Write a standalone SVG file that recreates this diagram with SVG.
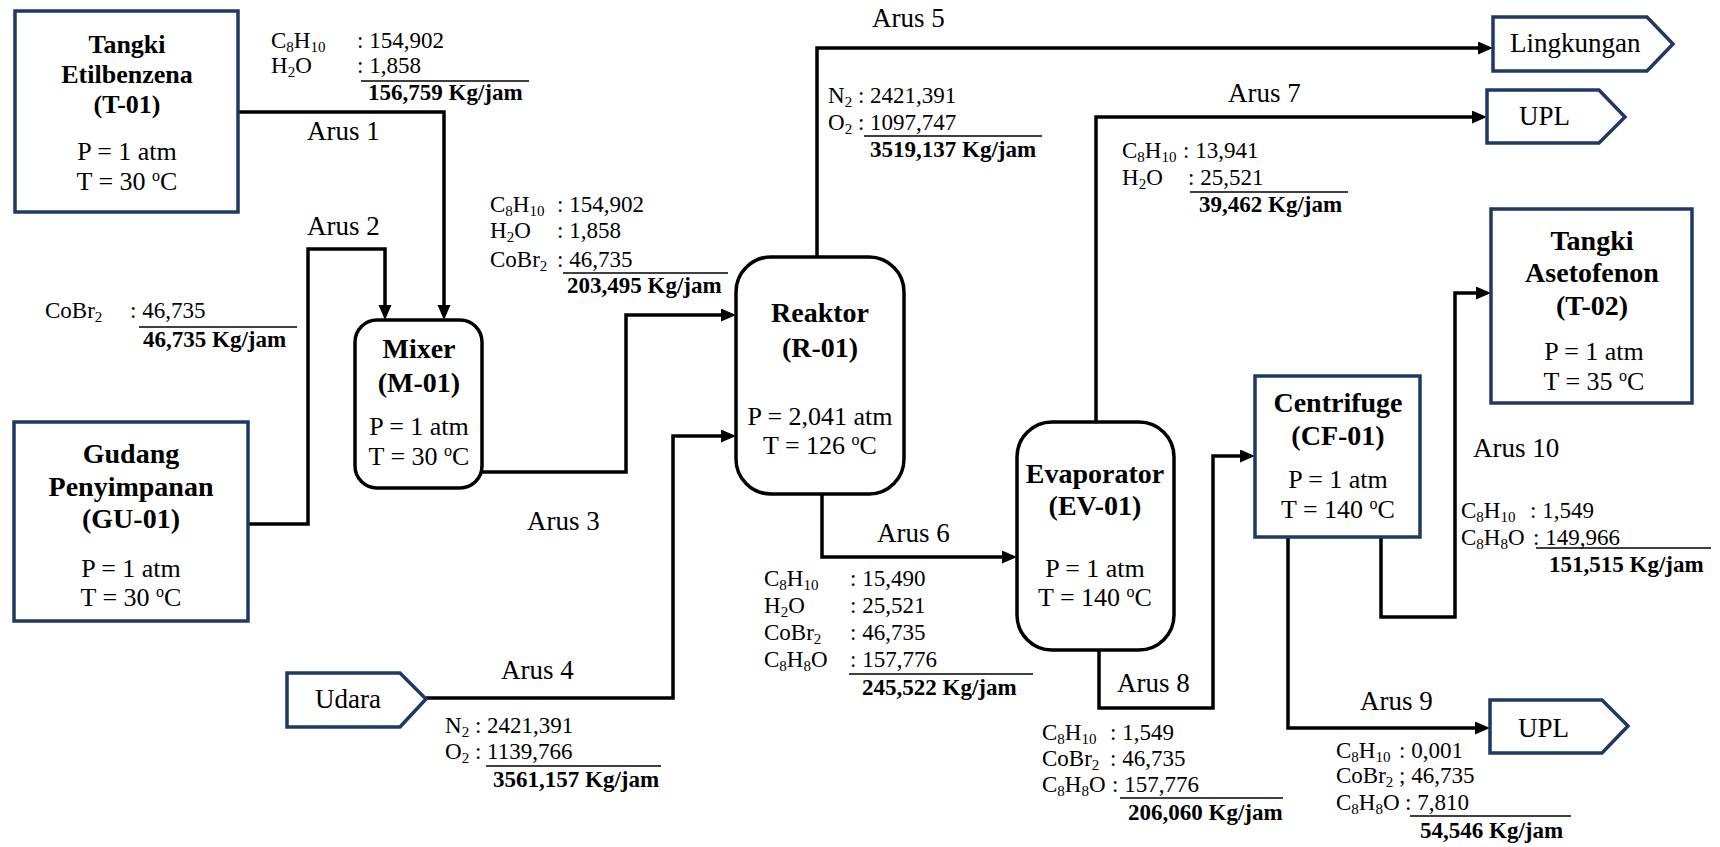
<svg xmlns="http://www.w3.org/2000/svg" width="1720" height="847" viewBox="0 0 1720 847" font-family="'Liberation Serif', 'Times New Roman', serif">
<style>
text{font-family:"Liberation Serif","Times New Roman",serif;fill:#000}
.t{font-size:28px;font-weight:bold;text-anchor:middle}
.t1{font-size:26px;font-weight:bold;text-anchor:middle}
.p{font-size:26px;text-anchor:middle}
.a{font-size:27px}
.c{font-size:23px}
.b{font-size:23px;font-weight:bold}
.s{font-size:15px;baseline-shift:-4px}
.o{font-size:16px;baseline-shift:9px}
.box{fill:#fff;stroke:#1F3864;stroke-width:3.5}
.rbox{fill:#fff;stroke:#000;stroke-width:3.5}
.conn{fill:none;stroke:#000;stroke-width:3.5;marker-end:url(#ah)}
.rule{stroke:#000;stroke-width:1.6}
</style>
<defs>
<marker id="ah" markerUnits="userSpaceOnUse" markerWidth="16" markerHeight="14" refX="11" refY="6.5" orient="auto">
<path d="M0,0 L15,6.5 L0,13 z" fill="#000"/>
</marker>
</defs>
<rect width="1720" height="847" fill="#fff"/>

<g id="connectors">
<path class="conn" d="M238,112 H444 V316"/>
<path class="conn" d="M248,524 H308 V249 H385 V316"/>
<path class="conn" d="M482,472 H626 V315 H732"/>
<path class="conn" d="M426,698 H673 V436 H732"/>
<path class="conn" d="M817,257 V48 H1489"/>
<path class="conn" d="M822,494 V557 H1013"/>
<path class="conn" d="M1096,422 V117 H1483"/>
<path class="conn" d="M1099,650 V708 H1213 V456 H1251"/>
<path class="conn" d="M1288,537 V728 H1486"/>
<path class="conn" d="M1381,537 V617 H1455 V293 H1487"/>
</g>

<g id="T-01">
<rect class="box" x="15" y="11" width="223" height="201"/>
<text class="t1" x="127" y="53">Tangki</text>
<text class="t1" x="127" y="83">Etilbenzena</text>
<text class="t1" x="127" y="113">(T-01)</text>
<text class="p" x="127" y="160">P = 1 atm</text>
<text class="p" x="127" y="190">T = 30 <tspan class="o">o</tspan>C</text>
</g>

<g id="GU-01">
<rect class="box" x="14" y="422" width="234" height="199"/>
<text class="t" x="131" y="463">Gudang</text>
<text class="t" x="131" y="496">Penyimpanan</text>
<text class="t" x="131" y="528">(GU-01)</text>
<text class="p" x="131" y="577">P = 1 atm</text>
<text class="p" x="131" y="606">T = 30 <tspan class="o">o</tspan>C</text>
</g>

<g id="M-01">
<rect class="rbox" x="355" y="320" width="127" height="168" rx="22"/>
<text class="t" x="419" y="358">Mixer</text>
<text class="t" x="419" y="392">(M-01)</text>
<text class="p" x="419" y="435">P = 1 atm</text>
<text class="p" x="419" y="465">T = 30 <tspan class="o">o</tspan>C</text>
</g>

<g id="R-01">
<rect class="rbox" x="736" y="257" width="168" height="237" rx="35"/>
<text class="t" x="820" y="322">Reaktor</text>
<text class="t" x="820" y="357">(R-01)</text>
<text class="p" x="820" y="425">P = 2,041 atm</text>
<text class="p" x="820" y="454">T = 126 <tspan class="o">o</tspan>C</text>
</g>

<g id="EV-01">
<rect class="rbox" x="1017" y="422" width="157" height="228" rx="35"/>
<text class="t" x="1095" y="483">Evaporator</text>
<text class="t" x="1095" y="515">(EV-01)</text>
<text class="p" x="1095" y="577">P = 1 atm</text>
<text class="p" x="1095" y="606">T = 140 <tspan class="o">o</tspan>C</text>
</g>

<g id="CF-01">
<rect class="box" x="1255" y="376" width="165" height="161"/>
<text class="t" x="1338" y="412">Centrifuge</text>
<text class="t" x="1338" y="445">(CF-01)</text>
<text class="p" x="1338" y="488">P = 1 atm</text>
<text class="p" x="1338" y="518">T = 140 <tspan class="o">o</tspan>C</text>
</g>

<g id="T-02">
<rect class="box" x="1491" y="209" width="201" height="194"/>
<text class="t" x="1592" y="250">Tangki</text>
<text class="t" x="1592" y="282">Asetofenon</text>
<text class="t" x="1592" y="315">(T-02)</text>
<text class="p" x="1594" y="360">P = 1 atm</text>
<text class="p" x="1594" y="390">T = 35 <tspan class="o">o</tspan>C</text>
</g>

<g id="Udara">
<polygon class="box" points="287,673 400,673 426,699 400,727 287,727"/>
<text class="a" x="315" y="708">Udara</text>
</g>

<g id="Lingkungan">
<polygon class="box" points="1493,17 1647,17 1673,44 1647,71 1493,71"/>
<text class="a" x="1510" y="52">Lingkungan</text>
</g>

<g id="UPL-1">
<polygon class="box" points="1487,90 1599,90 1625,117 1599,143 1487,143"/>
<text class="a" x="1519" y="125">UPL</text>
</g>

<g id="UPL-2">
<polygon class="box" points="1490,700 1602,700 1628,726 1602,753 1490,753"/>
<text class="a" x="1518" y="737">UPL</text>
</g>

<g id="labels">
<text class="a" x="307" y="140">Arus 1</text>
<text class="a" x="307" y="235">Arus 2</text>
<text class="a" x="527" y="530">Arus 3</text>
<text class="a" x="501" y="679">Arus 4</text>
<text class="a" x="872" y="27">Arus 5</text>
<text class="a" x="877" y="542">Arus 6</text>
<text class="a" x="1228" y="102">Arus 7</text>
<text class="a" x="1117" y="692">Arus 8</text>
<text class="a" x="1360" y="710">Arus 9</text>
<text class="a" x="1473" y="457">Arus 10</text>
</g>

<g id="komposisi-1">
<text class="c" x="271" y="48">C<tspan class="s">8</tspan>H<tspan class="s">10</tspan></text>
<text class="c" x="357" y="48">: 154,902</text>
<text class="c" x="271" y="73">H<tspan class="s">2</tspan>O</text>
<text class="c" x="357" y="73">: 1,858</text>
<line class="rule" x1="361" y1="81" x2="529" y2="81"/>
<text class="b" x="368" y="100">156,759 Kg/jam</text>
</g>

<g id="komposisi-2">
<text class="c" x="45" y="318">CoBr<tspan class="s">2</tspan></text>
<text class="c" x="130" y="318">: 46,735</text>
<line class="rule" x1="139" y1="327" x2="297" y2="327"/>
<text class="b" x="143" y="347">46,735 Kg/jam</text>
</g>

<g id="komposisi-3">
<text class="c" x="490" y="212">C<tspan class="s">8</tspan>H<tspan class="s">10</tspan></text>
<text class="c" x="557" y="212">: 154,902</text>
<text class="c" x="490" y="238">H<tspan class="s">2</tspan>O</text>
<text class="c" x="557" y="238">: 1,858</text>
<text class="c" x="490" y="267">CoBr<tspan class="s">2</tspan></text>
<text class="c" x="557" y="267">: 46,735</text>
<line class="rule" x1="563" y1="273" x2="728" y2="273"/>
<text class="b" x="567" y="293">203,495 Kg/jam</text>
</g>

<g id="komposisi-4">
<text class="c" x="445" y="733">N<tspan class="s">2</tspan> : 2421,391</text>
<text class="c" x="445" y="759">O<tspan class="s">2</tspan> : 1139,766</text>
<line class="rule" x1="486" y1="766" x2="661" y2="766"/>
<text class="b" x="493" y="787">3561,157 Kg/jam</text>
</g>

<g id="komposisi-5">
<text class="c" x="828" y="103">N<tspan class="s">2</tspan> : 2421,391</text>
<text class="c" x="828" y="130">O<tspan class="s">2</tspan> : 1097,747</text>
<line class="rule" x1="864" y1="136" x2="1042" y2="136"/>
<text class="b" x="870" y="157">3519,137 Kg/jam</text>
</g>

<g id="komposisi-6">
<text class="c" x="764" y="586">C<tspan class="s">8</tspan>H<tspan class="s">10</tspan></text>
<text class="c" x="850" y="586">: 15,490</text>
<text class="c" x="764" y="613">H<tspan class="s">2</tspan>O</text>
<text class="c" x="850" y="613">: 25,521</text>
<text class="c" x="764" y="640">CoBr<tspan class="s">2</tspan></text>
<text class="c" x="850" y="640">: 46,735</text>
<text class="c" x="764" y="667">C<tspan class="s">8</tspan>H<tspan class="s">8</tspan>O</text>
<text class="c" x="850" y="667">: 157,776</text>
<line class="rule" x1="849" y1="674" x2="1033" y2="674"/>
<text class="b" x="862" y="695">245,522 Kg/jam</text>
</g>

<g id="komposisi-7">
<text class="c" x="1122" y="158">C<tspan class="s">8</tspan>H<tspan class="s">10</tspan></text>
<text class="c" x="1183" y="158">: 13,941</text>
<text class="c" x="1122" y="185">H<tspan class="s">2</tspan>O</text>
<text class="c" x="1188" y="185">: 25,521</text>
<line class="rule" x1="1190" y1="192" x2="1348" y2="192"/>
<text class="b" x="1199" y="212">39,462 Kg/jam</text>
</g>

<g id="komposisi-8">
<text class="c" x="1042" y="740">C<tspan class="s">8</tspan>H<tspan class="s">10</tspan></text>
<text class="c" x="1110" y="740">: 1,549</text>
<text class="c" x="1042" y="766">CoBr<tspan class="s">2</tspan></text>
<text class="c" x="1110" y="766">: 46,735</text>
<text class="c" x="1042" y="792">C<tspan class="s">8</tspan>H<tspan class="s">8</tspan>O</text>
<text class="c" x="1112" y="792">: 157,776</text>
<line class="rule" x1="1120" y1="798" x2="1283" y2="798"/>
<text class="b" x="1128" y="820">206,060 Kg/jam</text>
</g>

<g id="komposisi-9">
<text class="c" x="1336" y="758">C<tspan class="s">8</tspan>H<tspan class="s">10</tspan></text>
<text class="c" x="1399" y="758">: 0,001</text>
<text class="c" x="1336" y="783">CoBr<tspan class="s">2</tspan></text>
<text class="c" x="1399" y="783">; 46,735</text>
<text class="c" x="1336" y="810">C<tspan class="s">8</tspan>H<tspan class="s">8</tspan>O</text>
<text class="c" x="1405" y="810">: 7,810</text>
<line class="rule" x1="1410" y1="816" x2="1571" y2="816"/>
<text class="b" x="1420" y="838">54,546 Kg/jam</text>
</g>

<g id="komposisi-10">
<text class="c" x="1461" y="518">C<tspan class="s">8</tspan>H<tspan class="s">10</tspan></text>
<text class="c" x="1530" y="518">: 1,549</text>
<text class="c" x="1461" y="545">C<tspan class="s">8</tspan>H<tspan class="s">8</tspan>O</text>
<text class="c" x="1533" y="545">: 149,966</text>
<line class="rule" x1="1536" y1="548" x2="1711" y2="548"/>
<text class="b" x="1549" y="572">151,515 Kg/jam</text>
</g>
</svg>
